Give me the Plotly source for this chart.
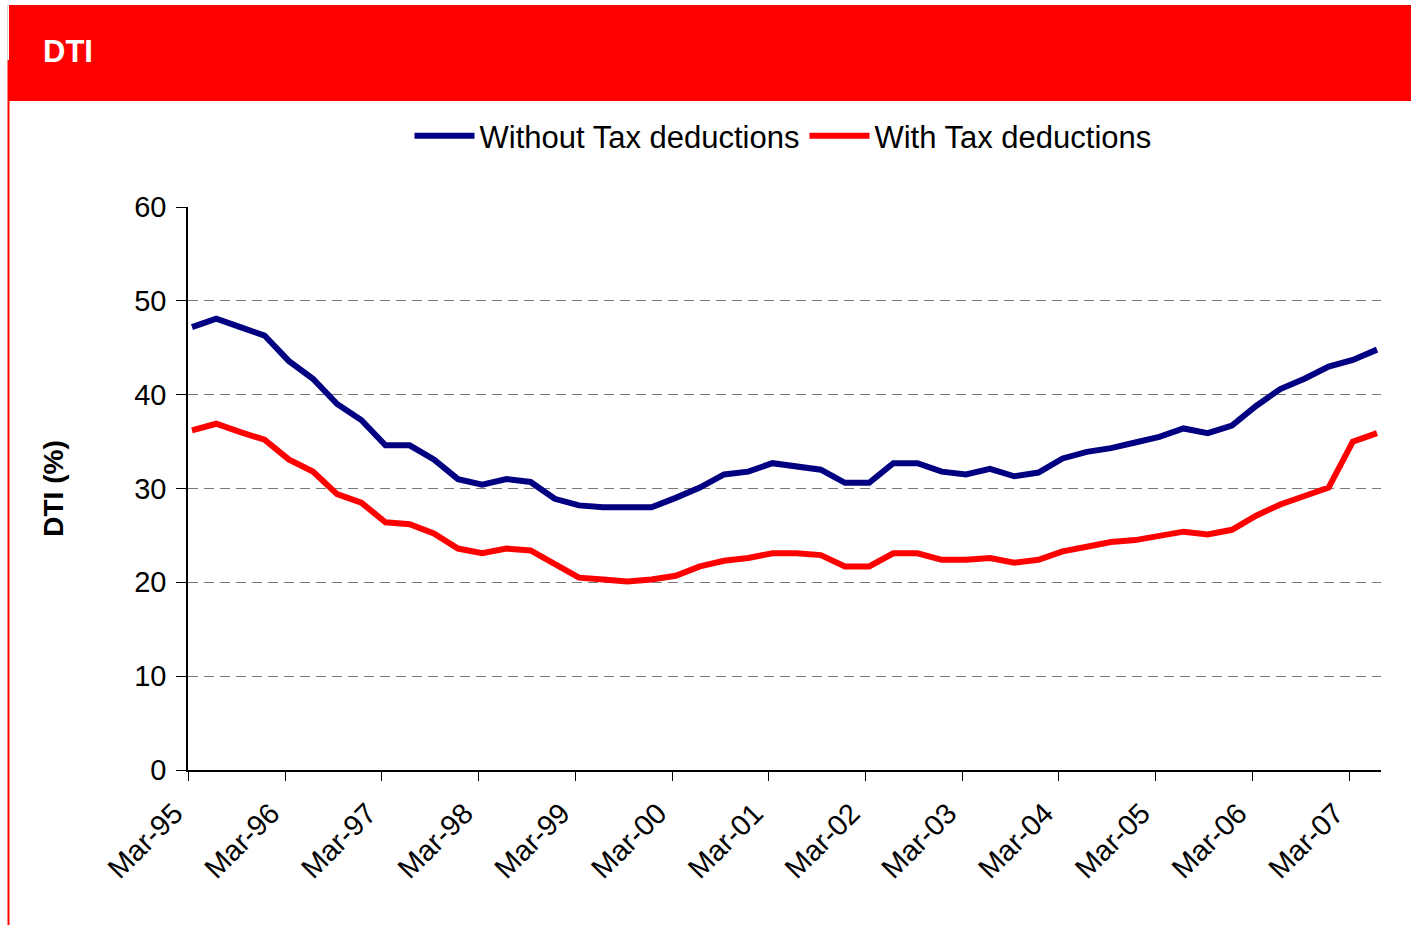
import numpy as np
import plotly.graph_objects as go

# Quarterly debt-to-income ratio, Mar-95 .. Jun-07
quarters = [f"{m}-{y:02d}" for y in list(range(95, 100)) + list(range(0, 8))
            for m in ("Mar", "Jun", "Sep", "Dec")][:50]

without_tax = [47.2, 48.1, 47.2, 46.3, 43.6, 41.7, 39.0, 37.3, 34.6, 34.6,
               33.1, 31.0, 30.4, 31.0, 30.7, 28.9, 28.2, 28.0, 28.0, 28.0,
               29.0, 30.1, 31.5, 31.8, 32.7, 32.4, 32.0, 30.6, 30.6, 32.7,
               32.7, 31.8, 31.5, 32.1, 31.3, 31.7, 33.2, 33.9, 34.3, 34.9,
               35.5, 36.4, 35.9, 36.7, 38.8, 40.6, 41.7, 43.0, 43.7, 44.8]

with_tax = [36.2, 36.9, 36.0, 35.2, 33.1, 31.8, 29.4, 28.5, 26.4, 26.2,
            25.2, 23.6, 23.1, 23.6, 23.4, 22.0, 20.5, 20.3, 20.1, 20.3,
            20.7, 21.7, 22.3, 22.6, 23.1, 23.1, 22.9, 21.7, 21.7, 23.1,
            23.1, 22.4, 22.4, 22.6, 22.1, 22.4, 23.3, 23.8, 24.3, 24.5,
            25.0, 25.4, 25.1, 25.6, 27.1, 28.3, 29.2, 30.1, 35.0, 35.9]

tick_labels = ["Mar-95", "Mar-96", "Mar-97", "Mar-98", "Mar-99", "Mar-00",
               "Mar-01", "Mar-02", "Mar-03", "Mar-04", "Mar-05", "Mar-06",
               "Mar-07"]
y_ticks = [0, 10, 20, 30, 40, 50, 60]

FONT = "Liberation Sans, Arial, sans-serif"
NAVY = "#000080"
RED = "#FF0000"

x = np.arange(len(quarters))
tick_pos = np.arange(0, len(quarters), 4) - 0.15

fig = go.Figure()
fig.add_trace(go.Scatter(x=x, y=without_tax, mode="lines",
                         name="Without Tax deductions",
                         line=dict(color=NAVY, width=6),
                         text=quarters, hovertemplate="%{text}: %{y}<extra></extra>"))
fig.add_trace(go.Scatter(x=x, y=with_tax, mode="lines",
                         name="With Tax deductions",
                         line=dict(color=RED, width=6),
                         text=quarters, hovertemplate="%{text}: %{y}<extra></extra>"))

# plot area in pixels: x 188..1381, y 207..770
W, H = 1411, 925
L, R, T, B = 188, 1381, 207, 770


def px(xp):
    return (xp - L) / (R - L)


def py(yp):
    return (B - yp) / (B - T)


shapes = [
    # red header band
    dict(type="rect", xref="paper", yref="paper",
         x0=px(9), x1=px(1411), y0=py(101), y1=py(5),
         fillcolor=RED, line=dict(width=0), layer="below"),
    # left frame line
    dict(type="line", xref="paper", yref="paper",
         x0=px(8.5), x1=px(8.5), y0=py(60), y1=py(925),
         line=dict(color=RED, width=2)),
    dict(type="line", xref="paper", yref="paper",
         x0=px(7.5), x1=px(7.5), y0=py(5), y1=py(60),
         line=dict(color="#d8d8d8", width=1)),
]

annotations = [
    dict(text="<b>DTI</b>", xref="paper", yref="paper",
         x=px(41), y=py(52), xanchor="left", yanchor="middle",
         showarrow=False, font=dict(family=FONT, size=31, color="white")),
]

fig.update_layout(
    width=W, height=H,
    margin=dict(l=L, r=W - R, t=T, b=H - B, pad=0),
    paper_bgcolor="white", plot_bgcolor="white",
    font=dict(family=FONT, color="black"),
    shapes=shapes, annotations=annotations,
    showlegend=True,
    legend=dict(orientation="h", x=px(783), y=py(136),
                xanchor="center", yanchor="middle",
                font=dict(family=FONT, size=31, color="black"),
                itemwidth=60, tracegroupgap=0,
                bgcolor="rgba(0,0,0,0)"),
    xaxis=dict(range=[-0.165, len(quarters) - 1 + 0.165],
               tickmode="array", tickvals=tick_pos, ticktext=tick_labels,
               tickangle=-45, tickfont=dict(family=FONT, size=29),
               ticks="outside", ticklen=9, tickwidth=1, tickcolor="black",
               ticklabelstandoff=4, ticklabelshift=-14,
               showline=True, linecolor="black", linewidth=1.5,
               showgrid=False, zeroline=False, mirror=False),
    yaxis=dict(range=[0, 60], tickmode="array", tickvals=y_ticks,
               tickfont=dict(family=FONT, size=29),
               ticks="outside", ticklen=10, tickwidth=1, tickcolor="black",
               ticklabelstandoff=4,
               showline=True, linecolor="black", linewidth=1.5,
               showgrid=True, gridcolor="#7a7a7a", gridwidth=1,
               griddash="10px,6px", zeroline=False,
               title=dict(text="<b>DTI (%)</b>",
                          font=dict(family=FONT, size=28), standoff=62)),
)

fig.write_html("out.html")
